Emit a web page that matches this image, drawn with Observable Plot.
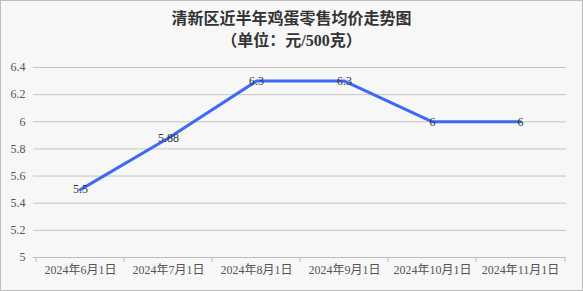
<!DOCTYPE html>
<html><head><meta charset="utf-8">
<script src="https://cdn.jsdelivr.net/npm/d3@7"></script>
<script src="https://cdn.jsdelivr.net/npm/@observablehq/plot@0.6"></script>
<style>
html,body{margin:0;padding:0;background:#fff;}
#frame{width:581px;height:289px;border:1px solid #bdbdbd;background:#f7f7f7;overflow:hidden;}
#title{height:56px;text-align:center;font-family:"Liberation Serif","Noto Sans CJK SC",serif;font-weight:bold;color:#333;font-size:16px;line-height:22px;padding-top:7px;box-sizing:border-box;}
</style></head>
<body>
<div id="frame">
  <div id="title"><div>清新区近半年鸡蛋零售均价走势图</div><div>（单位：元/500克）</div></div>
  <div id="chart"></div>
</div>
<script>
const dates = ["2024年6月1日","2024年7月1日","2024年8月1日","2024年9月1日","2024年10月1日","2024年11月1日"];
const prices = [5.5, 5.88, 6.3, 6.3, 6, 6];
const labels = ["5.5","5.88","6.3","6.3","6","6"];
const yTicks = [5, 5.2, 5.4, 5.6, 5.8, 6, 6.2, 6.4];

const data = dates.map((d, i) => ({date: d, price: prices[i], label: labels[i]}));
const W = 581, H = 233, ML = 32, MR = 16, MT = 10, MB = 33;
const bw = (W - ML - MR) / dates.length;
const font = "'Liberation Serif','Noto Sans CJK SC',serif";

const chart = Plot.plot({
  width: W, height: H,
  marginLeft: ML, marginRight: MR, marginTop: MT, marginBottom: MB,
  style: {background: "transparent", fontFamily: font, fontSize: "12px", color: "#555"},
  x: {type: "band", domain: dates, padding: 0, label: null},
  y: {domain: [5, 6.4], label: null},
  marks: [
    Plot.gridY(yTicks, {stroke: "#c4c4c4", strokeOpacity: 1, strokeWidth: 1}),
    Plot.axisY(yTicks, {tickSize: 0, tickPadding: 8, tickFormat: d => String(+d.toFixed(1)), fill: "#555", fontSize: 12, label: null}),
    Plot.ruleY([5], {stroke: "#bdbdbd"}),
    Plot.axisX({tickSize: 0, tickPadding: 8, fill: "#555", fontSize: 12, label: null}),
    Plot.axisX(dates, {tickSize: 5, text: null, dx: -bw / 2, stroke: "#bdbdbd", label: null}),
    Plot.axisX(dates.slice(-1), {tickSize: 5, text: null, dx: bw / 2, stroke: "#bdbdbd", label: null}),
    Plot.line(data, {x: "date", y: "price", stroke: "#3d6af5", strokeWidth: 3}),
    Plot.text(data, {x: "date", y: "price", text: "label", fill: "#333", fontSize: 12, fontFamily: font})
  ]
});
document.getElementById("chart").appendChild(chart);
</script>
</body></html>
